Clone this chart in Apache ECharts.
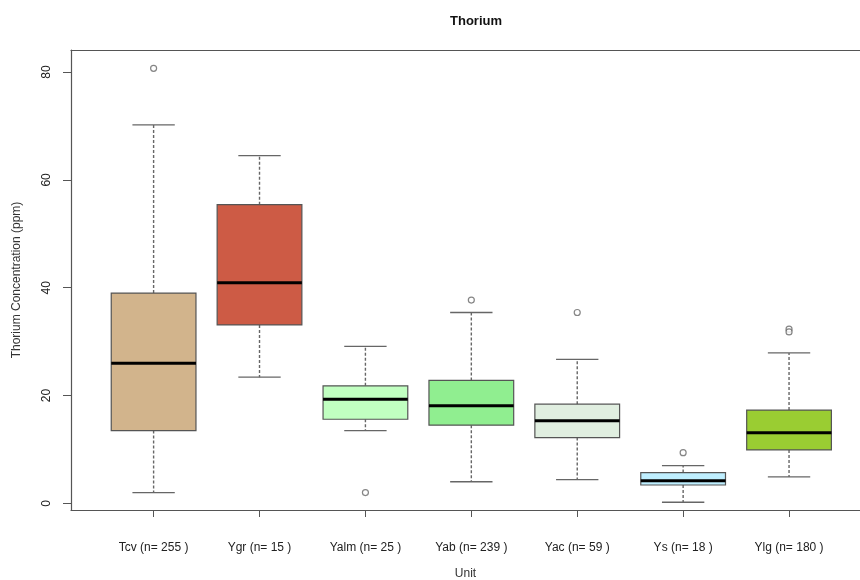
<!DOCTYPE html>
<html>
<head>
<meta charset="utf-8">
<script src="https://cdn.jsdelivr.net/npm/echarts@6/dist/echarts.min.js"></script>
<style>
  html, body { margin: 0; padding: 0; background: #fff; }
  #chart { width: 860px; height: 580px; }
</style>
</head>
<body>
<div id="chart"></div>
<script>
// boxplot stats
const categories = ['Tcv (n= 255 )', 'Ygr (n= 15 )', 'Yalm (n= 25 )', 'Yab (n= 239 )', 'Yac (n= 59 )', 'Ys (n= 18 )', 'Ylg (n= 180 )']
const lowerWhisker = [2.0, 23.4, 13.5, 4.0, 4.4, 0.2, 4.9]
const q1 = [13.5, 33.1, 15.6, 14.5, 12.2, 3.4, 9.9]
const median = [26.0, 40.9, 19.3, 18.1, 15.3, 4.2, 13.1]
const q3 = [39.0, 55.4, 21.8, 22.8, 18.4, 5.7, 17.3]
const upperWhisker = [70.2, 64.5, 29.1, 35.4, 26.7, 7.0, 27.9]
// [group index (1-based), value]
const outliers = [[1, 80.7], [3, 2.0], [4, 37.7], [5, 35.4], [6, 9.4], [7, 32.3], [7, 31.8]]
const yTicks = [0, 20, 40, 60, 80]
const xTicks = [1, 2, 3, 4, 5, 6, 7]
const boxColors = ['#d2b48c', '#cd5b45', '#c1ffc1', '#90ee90', '#e0eee0', '#bfefff', '#9acd32']

const chart = echarts.init(document.getElementById('chart'))

const boxData = categories.map((c, i) => [i + 1, lowerWhisker[i], q1[i], median[i], q3[i], upperWhisker[i]])

function renderBox(params, api) {
  const x = api.value(0)
  const half = api.size([0.8, 0])[0] / 2
  const lw = api.coord([x, api.value(1)])
  const b1 = api.coord([x, api.value(2)])
  const md = api.coord([x, api.value(3)])
  const b3 = api.coord([x, api.value(4)])
  const uw = api.coord([x, api.value(5)])
  const cx = lw[0]
  const whisk = { stroke: '#666', lineWidth: 1.4, lineDash: [3, 2] }
  const cap = { stroke: '#666', lineWidth: 1.3 }
  return {
    type: 'group',
    children: [
      { type: 'line', shape: { x1: cx, y1: b3[1], x2: cx, y2: uw[1] }, style: whisk },
      { type: 'line', shape: { x1: cx, y1: b1[1], x2: cx, y2: lw[1] }, style: whisk },
      { type: 'line', shape: { x1: cx - half / 2, y1: uw[1], x2: cx + half / 2, y2: uw[1] }, style: cap },
      { type: 'line', shape: { x1: cx - half / 2, y1: lw[1], x2: cx + half / 2, y2: lw[1] }, style: cap },
      {
        type: 'rect',
        shape: { x: cx - half, y: b3[1], width: half * 2, height: b1[1] - b3[1] },
        style: { fill: boxColors[params.dataIndex], stroke: '#555', lineWidth: 1.2 }
      },
      { type: 'line', shape: { x1: cx - half, y1: md[1], x2: cx + half, y2: md[1] }, style: { stroke: '#000', lineWidth: 3 } }
    ]
  }
}

const labelFont = { fontFamily: 'Liberation Sans', fontSize: 12, color: '#222' }

const option = {
  animation: false,
  title: {
    text: 'Thorium',
    left: 471,
    top: 10,
    textAlign: 'center',
    textStyle: { fontFamily: 'Liberation Sans', fontSize: 13, fontWeight: 'bold', color: '#111' }
  },
  grid: {
    left: 71,
    top: 50,
    right: 0,
    height: 460,
    show: false,
    outerBoundsMode: 'none'
  },
  xAxis: [
    {
      type: 'value',
      position: 'bottom',
      min: 0.22,
      max: 7.67,
      name: 'Unit',
      nameLocation: 'middle',
      nameGap: 58,
      nameTextStyle: { fontFamily: 'Liberation Sans', fontSize: 12, color: '#333' },
      splitLine: { show: false },
      axisLine: { show: true, onZero: false, lineStyle: { color: '#555', width: 1.2 } },
      axisTick: { show: true, length: 7, lineStyle: { color: '#555' }, customValues: xTicks },
      axisLabel: Object.assign({
        customValues: xTicks,
        margin: 32,
        formatter: (v) => categories[Math.round(v) - 1] || ''
      }, labelFont)
    },
    {
      // top edge of the frame
      type: 'value',
      position: 'top',
      min: 0.22,
      max: 7.67,
      splitLine: { show: false },
      axisLine: { show: true, onZero: false, lineStyle: { color: '#555', width: 1.2 } },
      axisTick: { show: false },
      axisLabel: { show: false }
    }
  ],
  yAxis: {
    type: 'value',
    min: -1.24,
    max: 84.1,
    name: 'Thorium Concentration (ppm)',
    nameLocation: 'middle',
    nameGap: 48,
    nameTextStyle: { fontFamily: 'Liberation Sans', fontSize: 12, color: '#333' },
    splitLine: { show: false },
    axisLine: { show: true, onZero: false, lineStyle: { color: '#555', width: 1.2 } },
    axisTick: { show: true, length: 8, lineStyle: { color: '#555' }, customValues: yTicks },
    axisLabel: Object.assign({
      customValues: yTicks,
      rotate: 90,
      margin: 18
    }, labelFont)
  },
  series: [
    {
      type: 'custom',
      renderItem: renderBox,
      data: boxData,
      encode: { x: 0, y: [1, 2, 3, 4, 5] }
    },
    {
      type: 'scatter',
      data: outliers,
      symbol: 'circle',
      symbolSize: 6,
      itemStyle: { color: '#fff', borderColor: '#666', borderWidth: 1.2 }
    }
  ]
}

chart.setOption(option)
</script>
</body>
</html>
